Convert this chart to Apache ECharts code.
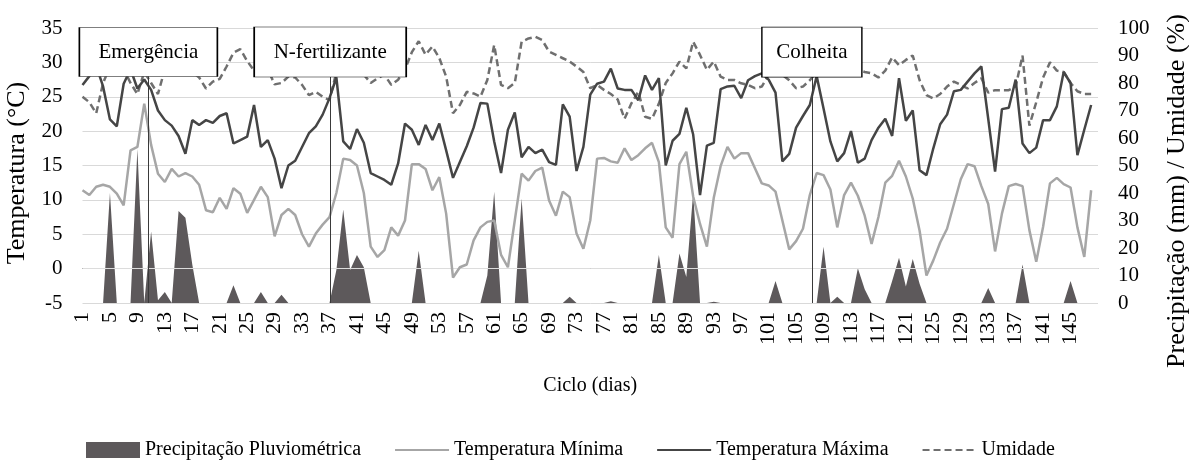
<!DOCTYPE html>
<html>
<head>
<meta charset="utf-8">
<script src="https://cdn.jsdelivr.net/npm/echarts@6/dist/echarts.min.js"></script>
<style>
html,body{margin:0;padding:0;background:#fff;}
#chart{width:1189px;height:468px;}
</style>
</head>
<body>
<div id="chart"></div>
<script>
// ---- data ----
const days = [];
for (let d = 1; d <= 149; d++) days.push(String(d));

const precipitacao = [
  0,0,0,0,40,0,0,0,56,0,
  26,1,4,0,33.5,31,14,0,0,0,
  0,0,6.5,0,0,0,4,0,0,3,
  0,0,0,0,0,0,0,12,34,12,
  17.5,13,0,0,0,0,0,0,0,19,
  0,0,0,0,0,0,0,0,0,10,
  40.5,0,0,0,38,0,0,0,0,0,
  0,2.3,0,0,0,0,0,0.6,0,0,
  0,0,0,0,17.5,0,0,18,9.5,40,
  0,0,0.5,0,0,0,0,0,0,0,
  0,8,0,0,0,0,0,0,20.5,0,
  2.3,0,0,12.6,5,0,0,0,8,16.5,
  6,16,7,0,0,0,0,0,0,0,
  0,0,5.5,0,0,0,0,14,0,0,
  0,0,0,0,8,0,0,0
];

const tempMinima = [
  11.4,10.7,11.9,12.2,11.9,10.9,9.2,17.2,17.7,24,
  18,13.8,12.6,14.5,13.4,13.9,13.4,12.2,8.5,8.2,
  10.3,8.7,11.7,10.9,8.1,10,11.9,10.4,4.7,7.8,
  8.7,7.8,5,3.2,5.1,6.4,7.5,11,16,15.8,
  15,11,3.2,1.7,2.7,6,4.8,7,15.2,15.2,
  14.5,11.4,13.3,8,-1.3,0.2,0.6,4.1,6,6.8,
  7,2,0.2,7,13.8,12.8,14.2,14.7,9.9,7.7,
  11.2,10.4,5.1,2.9,7,16,16.1,15.6,15.4,17.5,
  15.8,16.5,17.5,18.3,15.5,6,4.5,15.2,17,10.5,
  6.5,3.2,10.3,14.9,17.7,16,16.8,16.8,14.6,12.4,
  12.1,11.2,7,2.8,4,5.8,10.7,13.9,13.6,11.5,
  6,10.7,12.5,10.6,7.7,3.6,7.5,12.5,13.5,15.7,
  13.4,10.2,5.5,-1,1.2,3.8,5.8,9.4,13,15.2,
  14.9,12,9.4,2.5,8,12,12.3,12,5.6,1,
  6.1,12.4,13.2,12.3,11.8,6,1.7,11.4
];

const tempMaxima = [
  26.7,28,29.5,26.5,21.7,20.7,26.9,29,26.2,27.5,
  26,23,21.6,20.8,19.3,16.7,21.6,20.9,21.6,21.2,
  22.2,22.6,18.2,18.7,19.2,23.8,17.7,18.7,16,11.7,
  15,15.7,17.7,19.7,20.7,22.4,24.8,27.8,18.5,17.4,
  20.3,18.3,13.9,13.4,12.9,12.2,15.3,21.1,20.2,18,
  20.9,18.7,21.1,17.2,13.2,15.5,17.8,20.5,24.1,24,
  18.5,13.9,20.2,22.7,16.2,17.7,16.8,17.3,15.5,15.1,
  23.9,22.1,14.2,17.7,25.3,26.9,27.2,29.1,26.2,26,
  26,24.5,28.1,26,27.7,15,18.6,19.6,23.4,19.5,
  10.7,17.9,18.3,26.1,26.5,26.6,24.8,27.4,28,28.4,
  27.5,25.6,15.6,16.7,20.5,22.2,23.8,28,23.3,18.5,
  15.6,16.8,20,15.4,16,18.7,20.5,21.8,19.3,27.7,
  21.5,23,14.3,13.6,17.5,21,22.4,25.8,26,27.2,
  28.4,29.4,21.8,14.1,23.2,23.4,27.5,18.2,16.8,17.6,
  21.6,21.6,23.6,28.6,27,16.5,20.2,23.8
];

const umidade = [
  75,73,69,80,86,88,85,80,76,84,
  80,76,85,87,88,86,84,82,78,80.5,
  81.5,86,91,92.3,88,84.5,82.5,85,79.5,80,
  82.3,82,79.3,75.6,76.8,75,73.8,84,86,87,
  85,83,80,81.7,83,79.3,81.2,85,91.2,95.2,
  90.3,93.3,89.1,82.3,69,72,76.8,76.2,75,81.1,
  93.8,79.3,78.1,80,95,96.2,96.8,95.6,91.4,90.2,
  89,87.8,86,84,78.1,79.3,77.5,76,74,67,
  72.6,76.8,67.7,67,72.5,80,83.5,87.8,85.3,95,
  90.2,84.8,87.8,82.3,81.1,81.1,79.9,79.3,78.1,78.7,
  83,84,83,81,78.1,78.7,81,84,86,85,
  83,84,86,85,84,83.5,82,84.5,89.3,86.5,
  88.4,90,81,75.6,74.4,76,78.7,80.5,79.3,78,
  80,81.7,76.5,77.4,77.4,77.4,78.7,90,64.5,73,
  82,87.5,84.5,84,80,77,76,76
];

// annotation events (day position on a continuous scale, label)
const eventDays = [10.6, 37.1, 107.3];
const eventLabels = ['Emergência', 'N-fertilizante', 'Colheita'];
const eventBoxSizes = [[138, 49], [152, 50], [100, 50]];

// ---- chart ----
const FONT = 'Liberation Serif';
const chart = echarts.init(document.getElementById('chart'), null, {renderer: 'canvas'});

const lineLegendStyle = {opacity: 0};

const option = {
  backgroundColor: '#ffffff',
  animation: false,
  textStyle: {fontFamily: FONT, color: '#000'},
  grid: {left: 82.5, right: 91, top: 28, bottom: 165, containLabel: false, outerBoundsMode: 'none'},
  legend: {
    top: 435, left: 81, itemGap: 33, itemWidth: 54, itemHeight: 16,
    textStyle: {fontFamily: FONT, fontSize: 20, color: '#000'},
    data: [
      {name: 'Precipitação Pluviométrica', icon: 'rect'},
      {name: 'Temperatura Mínima', itemStyle: lineLegendStyle},
      {name: 'Temperatura Máxima', itemStyle: lineLegendStyle},
      {name: 'Umidade', itemStyle: lineLegendStyle}
    ]
  },
  xAxis: [{
    type: 'category', data: days, boundaryGap: false,
    axisLine: {lineStyle: {color: '#8c8c8c', width: 1}},
    axisTick: {show: false},
    axisLabel: {
      rotate: 90, fontFamily: FONT, fontSize: 22, color: '#000', margin: 9,
      interval: (i) => i % 4 === 0 && i < 148
    },
    name: 'Ciclo (dias)', nameLocation: 'middle', nameGap: 73,
    nameTextStyle: {fontFamily: FONT, fontSize: 20, color: '#000'}
  }, {
    type: 'value', min: 1, max: 149, show: false
  }],
  yAxis: [{
    type: 'value', min: -5, max: 35, interval: 5,
    axisLine: {show: false}, axisTick: {show: false},
    splitLine: {lineStyle: {color: '#d9d9d9', width: 1}},
    axisLabel: {fontFamily: FONT, fontSize: 21, color: '#000', margin: 20},
    name: 'Temperatura (°C)', nameLocation: 'middle', nameGap: 40, nameRotate: 90,
    nameTextStyle: {fontFamily: FONT, fontSize: 26, color: '#000', padding: [0, 15, 0, 0]}
  }, {
    type: 'value', min: 0, max: 100, interval: 10, position: 'right',
    axisLine: {show: false}, axisTick: {show: false}, splitLine: {show: false},
    axisLabel: {fontFamily: FONT, fontSize: 21, color: '#000', margin: 20},
    name: 'Precipitação (mm) / Umidade (%)', nameLocation: 'middle', nameGap: 66, nameRotate: 90,
    nameTextStyle: {fontFamily: FONT, fontSize: 26, color: '#000', padding: [0, 51, 0, 0]}
  }],
  series: [{
    name: 'Precipitação Pluviométrica', type: 'line', yAxisIndex: 1,
    data: precipitacao, symbol: 'none', lineStyle: {width: 0},
    itemStyle: {color: '#5d595b'},
    areaStyle: {color: '#5d595b', opacity: 1}, z: 1
  }, {
    name: 'Temperatura Mínima', type: 'line', yAxisIndex: 0,
    data: tempMinima, symbol: 'none',
    itemStyle: {color: '#a6a6a6'},
    lineStyle: {color: '#a6a6a6', width: 2.5}, z: 2
  }, {
    name: 'Temperatura Máxima', type: 'line', yAxisIndex: 0,
    data: tempMaxima, symbol: 'none',
    itemStyle: {color: '#454545'},
    lineStyle: {color: '#454545', width: 2.5}, z: 3
  }, {
    name: 'Umidade', type: 'line', yAxisIndex: 1,
    data: umidade, symbol: 'none',
    itemStyle: {color: '#6f6f6f'},
    lineStyle: {color: '#6f6f6f', width: 2.5, type: [7, 4]}, z: 2
  }, {
    name: 'eixo0', type: 'line', yAxisIndex: 0, data: [], z: 1.8, silent: true,
    markLine: {
      symbol: 'none', silent: true, animation: false, z: 1.8,
      label: {show: false},
      lineStyle: {color: '#dcdcdc', width: 1, type: 'solid'},
      data: [{yAxis: 0}]
    }
  }, {
    name: 'eventos', type: 'line', xAxisIndex: 1, yAxisIndex: 0, data: [],
    z: 10, silent: true,
    markLine: {
      symbol: 'none', silent: true, animation: false,
      label: {show: false},
      lineStyle: {color: '#3a3a3a', width: 1, type: 'solid'},
      data: eventDays.map(d => ({xAxis: d}))
    },
    markPoint: {
      silent: true, animation: false,
      symbol: 'rect',
      itemStyle: {color: '#ffffff', borderColor: '#000', borderWidth: 1},
      label: {show: true, position: 'inside', fontFamily: FONT, fontSize: 21, color: '#000',
        formatter: (p) => p.name},
      data: eventDays.map((d, i) => ({name: eventLabels[i], coord: [d, 31.5], symbolSize: eventBoxSizes[i]}))
    }
  }]
};
chart.setOption(option);
</script>
</body>
</html>
